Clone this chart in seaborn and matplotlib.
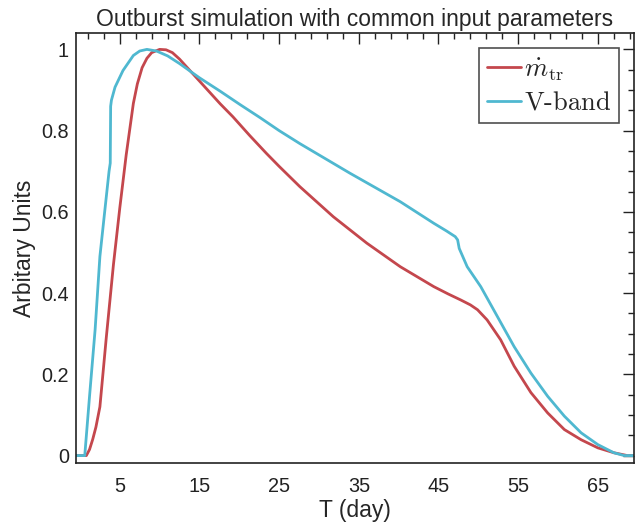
import numpy as np
import matplotlib
matplotlib.use("Agg")
import matplotlib.pyplot as plt
from matplotlib.ticker import MultipleLocator, FixedLocator
import seaborn as sns

# values
days_mdot = [-0.5, 0.8, 1.2, 1.6, 2.0, 2.5, 3.3, 4.2, 5.0, 5.8, 6.7, 7.2, 7.8, 8.4, 9.0,
             10.0, 10.8, 11.6, 12.5, 15.0, 17.6, 19.2, 21.3, 23.4, 25.0, 27.6, 31.8,
             36.0, 40.2, 44.4, 46.2, 47.8, 49.0, 49.9, 51.1, 52.8, 54.5, 56.6, 58.7,
             60.8, 62.9, 65.0, 67.0, 68.7, 69.5]
mdot_tr = [0.0, 0.0, 0.015, 0.04, 0.07, 0.12, 0.29, 0.47, 0.61, 0.74, 0.867, 0.915, 0.955,
           0.978, 0.992, 1.0, 0.999, 0.992, 0.976, 0.922, 0.866, 0.834, 0.788, 0.744,
           0.712, 0.662, 0.588, 0.523, 0.465, 0.416, 0.398, 0.383, 0.371, 0.359, 0.334,
           0.285, 0.22, 0.155, 0.105, 0.064, 0.039, 0.019, 0.007, 0.0, 0.0]

days_v = [-0.5, 0.6, 1.2, 1.9, 2.5, 3.1, 3.65, 3.8, 3.85, 3.95, 4.4, 5.4, 6.7, 7.5, 8.4,
          9.6, 11.0, 12.5, 15.0, 17.6, 20.1, 22.6, 25.0, 27.6, 33.9, 40.2, 44.4, 46.0,
          47.1, 47.4, 47.6, 48.6, 50.3, 52.4, 54.5, 56.6, 58.7, 60.8, 62.9, 65.0, 67.0,
          68.3, 69.5]
v_band = [0.0, 0.0, 0.146, 0.31, 0.49, 0.60, 0.70, 0.72, 0.86, 0.875, 0.907, 0.948, 0.985,
          0.996, 1.0, 0.996, 0.984, 0.965, 0.93, 0.897, 0.864, 0.832, 0.80, 0.768, 0.695,
          0.625, 0.572, 0.553, 0.539, 0.531, 0.51, 0.465, 0.416, 0.342, 0.268, 0.203,
          0.146, 0.097, 0.056, 0.027, 0.007, 0.0, 0.0]

sns.set_style("white")
plt.rcParams['font.family'] = ['Liberation Sans', 'DejaVu Sans']
plt.rcParams['mathtext.fontset'] = 'cm'

fig = plt.figure(figsize=(6.44, 5.26), dpi=100)
ax = fig.add_axes([0.118, 0.12, 0.866, 0.817])

red = "#c4474d"
cyan = "#4fb8d0"
sns.lineplot(x=days_mdot, y=mdot_tr, ax=ax, color=red, lw=2, sort=False,
             label=r'$\dot{m}_{\rm tr}$')
sns.lineplot(x=days_v, y=v_band, ax=ax, color=cyan, lw=2, sort=False,
             label=r'$\mathrm{V\text{-}band}$')

ax.set_xlim(-0.5, 69.5)
ax.set_ylim(-0.018, 1.04)
ax.xaxis.set_major_locator(FixedLocator([5, 15, 25, 35, 45, 55, 65]))
ax.xaxis.set_minor_locator(FixedLocator(np.arange(1, 70, 2)))
ax.yaxis.set_major_locator(FixedLocator([0, 0.2, 0.4, 0.6, 0.8, 1.0]))
ax.yaxis.set_minor_locator(MultipleLocator(0.05))
ax.set_yticklabels(['0', '0.2', '0.4', '0.6', '0.8', '1'])

ax.tick_params(which='both', direction='in', top=True, right=True, color='#222222',
               width=1, labelsize=14.3, labelcolor='#222222')
ax.tick_params(which='major', length=8)
ax.tick_params(which='minor', length=4.5)
ax.tick_params(axis='x', which='major', pad=10)
ax.tick_params(axis='y', which='major', pad=5)
for sp in ax.spines.values():
    sp.set_color('#222222')
    sp.set_linewidth(1.2)

ax.set_title('Outburst simulation with common input parameters', fontsize=16.5, pad=5)
ax.set_xlabel('T (day)', fontsize=16.5, labelpad=2)
ax.set_ylabel('Arbitary Units', fontsize=16.5, labelpad=4)

leg = ax.legend(loc='upper right', fontsize=19, frameon=True, fancybox=False,
                handlelength=1.3, handletextpad=0.1, borderpad=0.3,
                labelspacing=0.3, borderaxespad=0.57, bbox_to_anchor=(1, 1))
leg.get_frame().set_edgecolor('#222222')
leg.get_frame().set_linewidth(1.2)

fig.savefig("out.png", dpi=100)
